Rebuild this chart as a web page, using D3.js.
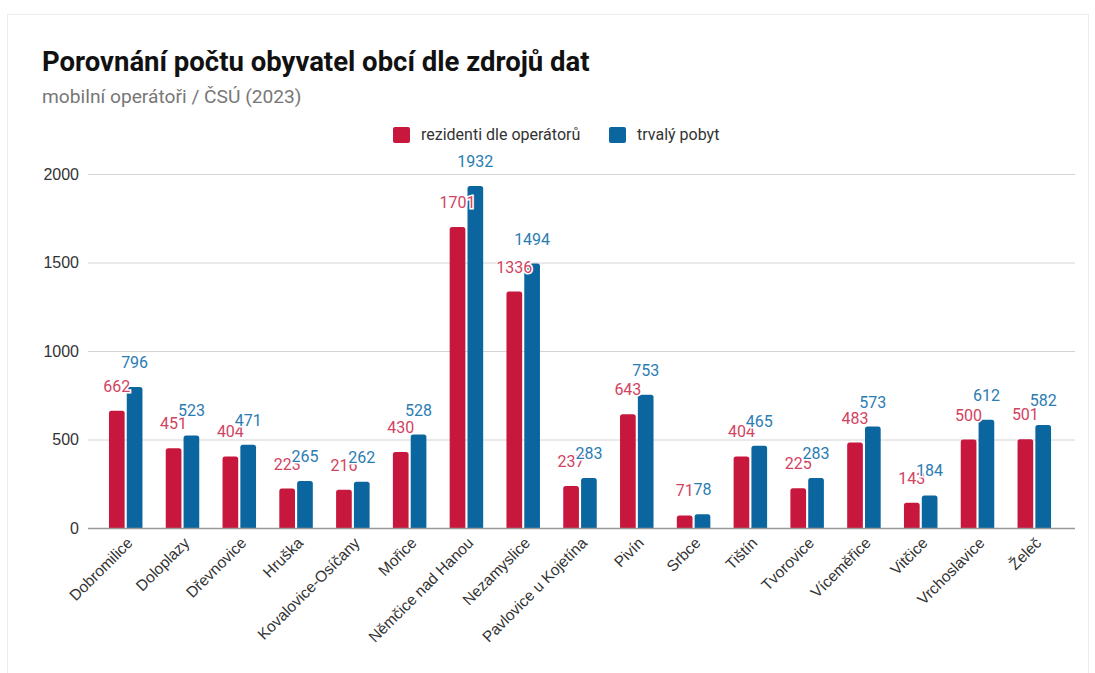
<!DOCTYPE html>
<html>
<head>
<meta charset="utf-8">
<script src="https://cdn.jsdelivr.net/npm/d3@7"></script>
<style>
  body { margin: 0; background: #fff; }
  #chart { position: absolute; left: 0; top: 0; }
</style>
</head>
<body>
<div id="chart"></div>
<script>
// data
const obce = ["Dobromilice", "Doloplazy", "Dřevnovice", "Hruška", "Kovalovice-Osíčany", "Mořice",
  "Němčice nad Hanou", "Nezamyslice", "Pavlovice u Kojetína", "Pivín", "Srbce", "Tištín",
  "Tvorovice", "Víceměřice", "Vitčice", "Vrchoslavice", "Želeč"];
const rezidenti = [662, 451, 404, 223, 216, 430, 1701, 1336, 237, 643, 71, 404, 225, 483, 143, 500, 501];
const trvalyPobyt = [796, 523, 471, 265, 262, 528, 1932, 1494, 283, 753, 78, 465, 283, 573, 184, 612, 582];
const serie = ["rezidenti dle operátorů", "trvalý pobyt"];
const yTicks = [0, 500, 1000, 1500, 2000];

const W = 1095, H = 673;
const barColors = ["#c8173d", "#0b66a0"];
const labelColors = ["#d2435f", "#2a7cb3"];

const svg = d3.select("#chart").append("svg")
  .attr("width", W).attr("height", H);

// card
svg.append("rect")
  .attr("x", 7.5).attr("y", 14.5).attr("width", W - 14).attr("height", H)
  .attr("fill", "#fff").attr("stroke", "#ececec");

svg.append("text")
  .attr("x", 42).attr("y", 71)
  .style("font-family", "Roboto, sans-serif")
  .style("font-weight", "bold").style("font-size", "27.5px")
  .attr("fill", "#111")
  .text("Porovnání počtu obyvatel obcí dle zdrojů dat");

svg.append("text")
  .attr("x", 42).attr("y", 103)
  .style("font-family", "Roboto, sans-serif")
  .style("font-size", "19.2px")
  .attr("fill", "#777")
  .text("mobilní operátoři / ČSÚ (2023)");

// legend
const legendX = [393, 609];
serie.forEach((s, i) => {
  const g = svg.append("g").attr("transform", `translate(${legendX[i]},127)`);
  g.append("rect").attr("width", 17).attr("height", 16).attr("rx", 2).attr("fill", barColors[i]);
  g.append("text").attr("x", 28).attr("y", 13)
    .style("font-family", "Roboto, sans-serif").style("font-size", "16px")
    .attr("fill", "#333").text(s);
});

const x0 = d3.scaleBand().domain(obce).range([97.6, 1062.4]).paddingInner(0.41).paddingOuter(0.2);
const x1 = d3.scaleBand().domain([0, 1]).range([0, x0.bandwidth()]).paddingInner(0.12);
const y = d3.scaleLinear().domain([0, 2000]).range([528, 174]);

// grid
const gridG = svg.append("g");
gridG.selectAll("line").data(yTicks.filter(d => d > 0)).enter().append("line")
  .attr("x1", 88).attr("x2", 1075)
  .attr("y1", d => y(d) + 0.5).attr("y2", d => y(d) + 0.5)
  .attr("stroke", "#d4d4d4");

const yAxis = svg.append("g").attr("transform", "translate(88,0)")
  .call(d3.axisLeft(y).tickValues(yTicks).tickSize(0).tickPadding(9).tickFormat(d3.format("d")));
yAxis.select(".domain").remove();
yAxis.selectAll("text")
  .style("font-family", "Liberation Sans, Arial, sans-serif").style("font-size", "16px").attr("fill", "#333");

// bars
const data = obce.map((o, i) => ({ obec: o, v: [rezidenti[i], trvalyPobyt[i]] }));
const groups = svg.append("g").selectAll("g").data(data).enter().append("g")
  .attr("transform", d => `translate(${x0(d.obec)},0)`);

function barPath(xx, w, top, bottom, r) {
  r = Math.min(r, (bottom - top));
  return `M${xx},${bottom}V${top + r}Q${xx},${top} ${xx + r},${top}H${xx + w - r}Q${xx + w},${top} ${xx + w},${top + r}V${bottom}Z`;
}

groups.selectAll("path").data(d => d.v.map((v, i) => ({ v, i }))).enter().append("path")
  .attr("d", d => barPath(x1(d.i), x1.bandwidth(), y(d.v), y(0), 2.5))
  .attr("fill", d => barColors[d.i]);

// x axis
const xAxis = svg.append("g").attr("transform", "translate(0,528)")
  .call(d3.axisBottom(x0).tickSize(0).tickPadding(0));
xAxis.select(".domain").remove();
svg.append("line").attr("x1", 88).attr("x2", 1075).attr("y1", 528.5).attr("y2", 528.5)
  .attr("stroke", "#999").attr("stroke-width", 1.5);
xAxis.selectAll("text")
  .style("font-family", "Liberation Sans, Arial, sans-serif").style("font-size", "15.5px")
  .attr("fill", "#333")
  .attr("text-anchor", "end")
  .attr("dy", 0).attr("y", 0)
  .attr("transform", "translate(8,16) rotate(-45)");

// value labels, series by series with white halo
[0, 1].forEach(i => {
  svg.append("g").selectAll("text").data(data).enter().append("text")
    .attr("x", d => x0(d.obec) + x1(i) + x1.bandwidth() / 2)
    .attr("y", d => y(d.v[i]) - 19)
    .attr("text-anchor", "middle")
    .style("font-family", "Roboto, sans-serif").style("font-size", "16px")
    .attr("fill", labelColors[i])
    .attr("stroke", "#fff").attr("stroke-width", 3).attr("paint-order", "stroke")
    .text(d => d.v[i]);
});
</script>
</body>
</html>
